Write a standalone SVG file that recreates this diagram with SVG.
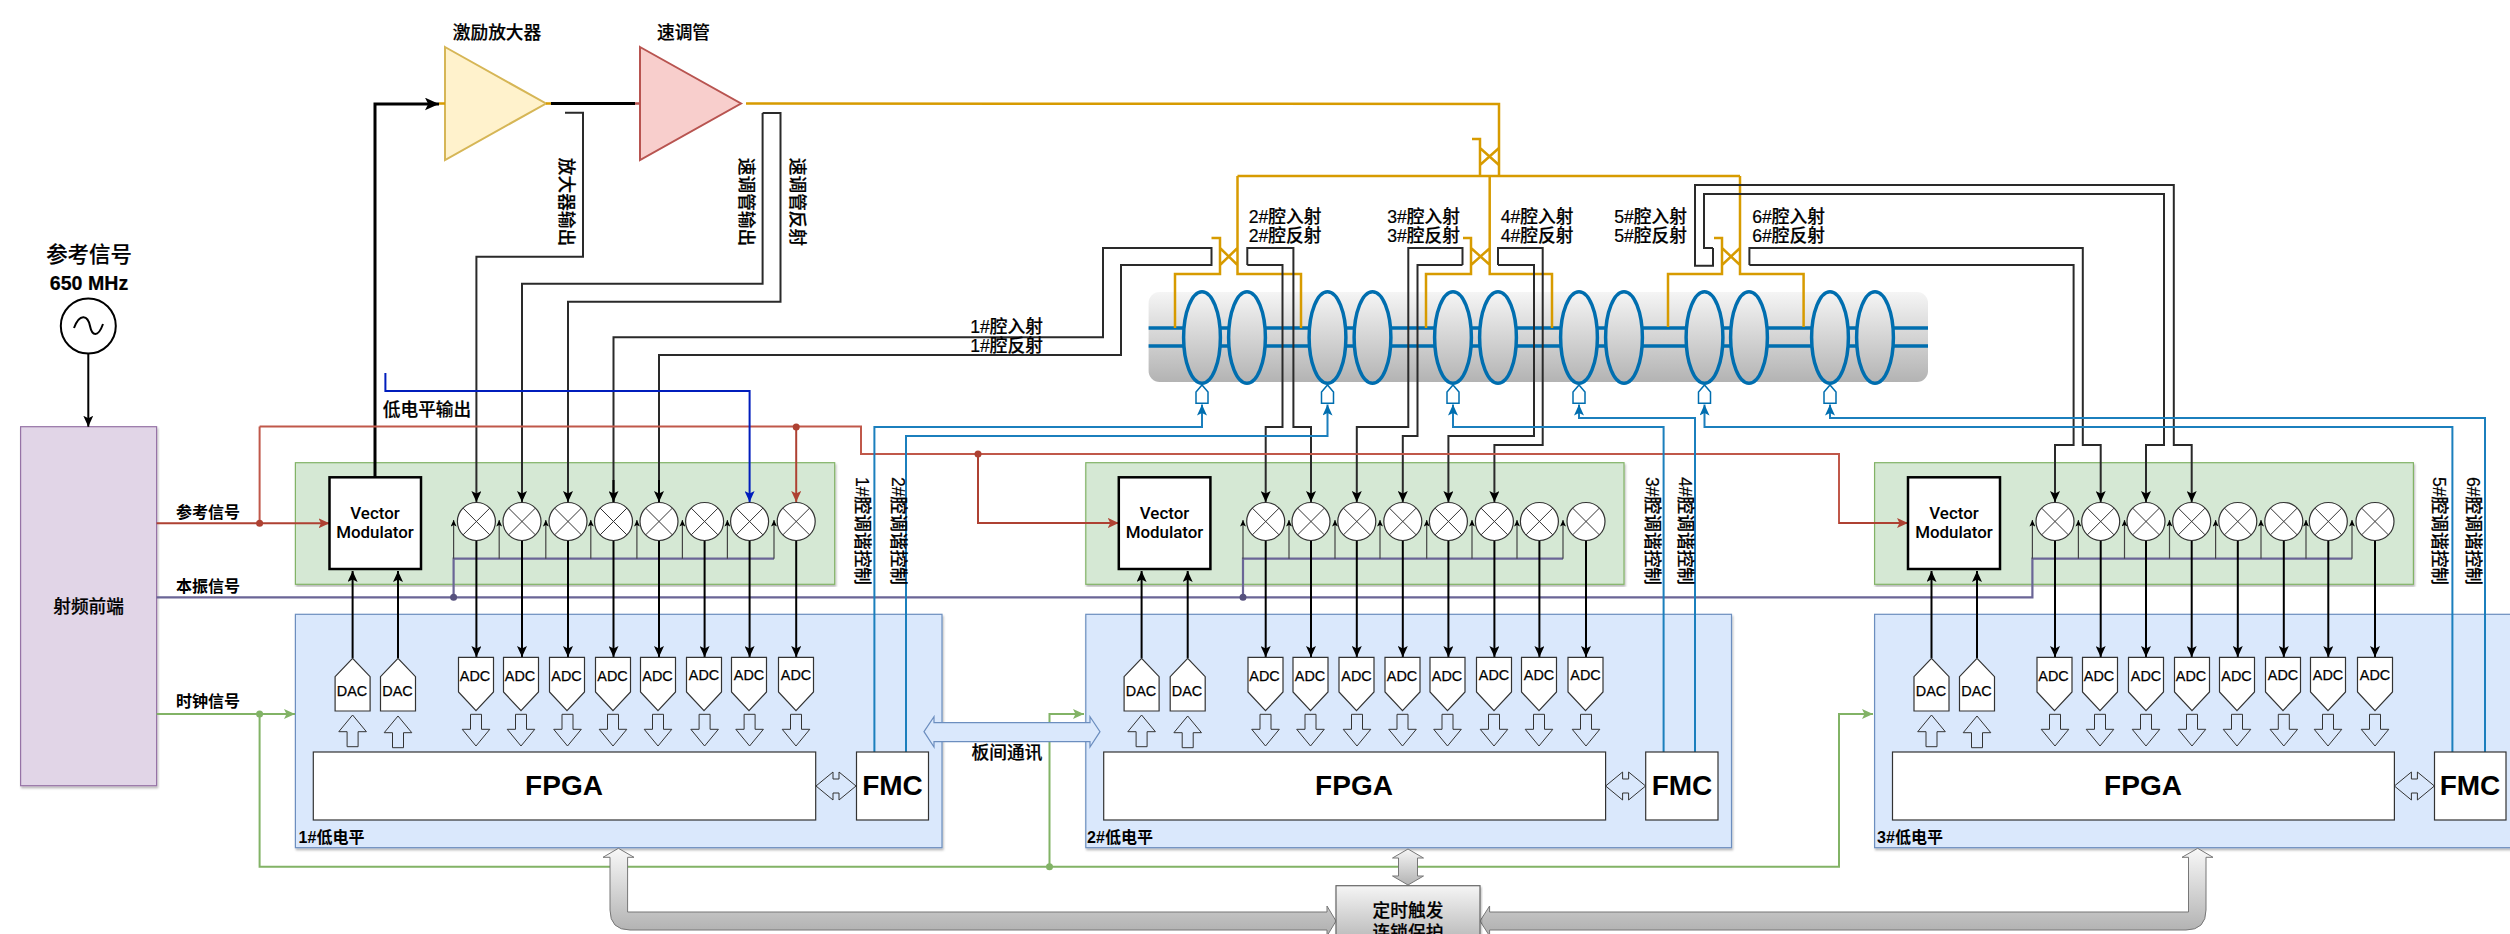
<svg xmlns="http://www.w3.org/2000/svg" width="2510" height="934" viewBox="0 0 2510 934">
<style>
text{font-family:"Liberation Sans","Noto Sans CJK SC",sans-serif;fill:#000;text-anchor:middle;dominant-baseline:central}
.t18{font-size:17.7px;font-weight:500;stroke:#000;stroke-width:.2}
.t16{font-size:16px;font-weight:bold}
.vmt{font-family:Roboto,"Liberation Sans",sans-serif;font-size:16.9px;font-weight:500}
.t28{font-size:28px;font-weight:bold}
.adc{font-size:14.4px;stroke:#000;stroke-width:.25}
.w{fill:none;stroke:#2a2a2a;stroke-width:2}
.k{fill:none;stroke:#000;stroke-width:2}
.kt{fill:none;stroke:#000;stroke-width:3}
.s{fill:none;stroke:#444;stroke-width:1.2}
.g{fill:none;stroke:#d79b00;stroke-width:2.5}
.r{fill:none;stroke:#ae4132;stroke-width:2}
.rb{fill:none;stroke:#c0584a;stroke-width:2}
.gr{fill:none;stroke:#82b366;stroke-width:2}
.p{fill:none;stroke:#6a6596;stroke-width:2.2}
.tb{fill:none;stroke:#1b7fbd;stroke-width:2}
.cav{fill:url(#gc);stroke:#006eaf;stroke-width:3.5}
.tube{fill:none;stroke:#006eaf;stroke-width:3.5}
.lb{fill:#dae8fc;stroke:#6c8ebf;stroke-width:1.2}
.lg{fill:#d5e8d4;stroke:#82b366;stroke-width:1.2}
.wh{fill:#fff;stroke:#333;stroke-width:1.2}
.vm{fill:#fff;stroke:#000;stroke-width:2.5}
.h{fill:#dae8fc;stroke:#333;stroke-width:1}
.tu{fill:#fff;stroke:#006eaf;stroke-width:1.5}
.dot{stroke:none}
</style>
<defs>
<linearGradient id="gc" x1="0" y1="0" x2="0" y2="1"><stop offset="0" stop-color="#f5f5f5"/><stop offset="1" stop-color="#b3b3b3"/></linearGradient>
<linearGradient id="gb" gradientUnits="userSpaceOnUse" x1="0" y1="848" x2="0" y2="930"><stop offset="0" stop-color="#f8f8f8"/><stop offset="1" stop-color="#b3b3b3"/></linearGradient>
<filter id="sh" x="-2%" y="-2%" width="104%" height="104%"><feDropShadow dx="1" dy="2" stdDeviation="1" flood-color="#000" flood-opacity="0.28"/></filter>
<marker id="ak" viewBox="0 0 11 10" refX="11" refY="5" markerWidth="11" markerHeight="10" markerUnits="userSpaceOnUse" orient="auto"><path d="M11,5L0,0L2.5,5L0,10Z" fill="#000"/></marker>
<marker id="akl" viewBox="0 0 11 10" refX="11" refY="5" markerWidth="14" markerHeight="13" markerUnits="userSpaceOnUse" orient="auto"><path d="M11,5L0,0L2.5,5L0,10Z" fill="#000"/></marker>
<marker id="as" viewBox="0 0 11 10" refX="11" refY="5" markerWidth="8" markerHeight="6" markerUnits="userSpaceOnUse" orient="auto"><path d="M11,5L0,0L2.5,5L0,10Z" fill="#000"/></marker>
<marker id="ar" viewBox="0 0 11 10" refX="11" refY="5" markerWidth="11" markerHeight="10" markerUnits="userSpaceOnUse" orient="auto"><path d="M11,5L0,0L2.5,5L0,10Z" fill="#ae4132"/></marker>
<marker id="ab" viewBox="0 0 11 10" refX="11" refY="5" markerWidth="11" markerHeight="10" markerUnits="userSpaceOnUse" orient="auto"><path d="M11,5L0,0L2.5,5L0,10Z" fill="#001dbc"/></marker>
<marker id="ag" viewBox="0 0 11 10" refX="11" refY="5" markerWidth="11" markerHeight="10" markerUnits="userSpaceOnUse" orient="auto"><path d="M11,5L0,0L2.5,5L0,10Z" fill="#82b366"/></marker>
<marker id="at" viewBox="0 0 11 10" refX="11" refY="5" markerWidth="11" markerHeight="10" markerUnits="userSpaceOnUse" orient="auto"><path d="M11,5L0,0L2.5,5L0,10Z" fill="#006eaf"/></marker>
<g id="mx"><circle cx="0" cy="521.5" r="19" fill="#fff" stroke="#333" stroke-width="1.2"/><path d="M-13.4,508.1L13.4,534.9M13.4,508.1L-13.4,534.9" stroke="#333" stroke-width="1"/></g>
<polygon id="adcS" class="wh" points="-17.5,657.3 17.5,657.3 17.5,692 0,710.7 -17.5,692"/>
<polygon id="dacS" class="wh" points="-17.5,711 17.5,711 17.5,676.7 0,658.3 -17.5,676.7"/>
<polygon id="up" class="h" points="-5.5,746.7 5.5,746.7 5.5,731.7 13.8,731.7 0,715 -13.8,731.7 -5.5,731.7"/>
<polygon id="dn" class="h" points="-5.5,714.3 5.5,714.3 5.5,729.3 13.8,729.3 0,746 -13.8,729.3 -5.5,729.3"/>
<polygon id="dbl" class="h" points="0,786 17,772 17,779 23,779 23,772 40,786 23,800 23,793 17,793 17,800"/>
<polygon id="tun" class="tu" points="-6,403.3 6,403.3 6,392 0,385 -6,392"/>
</defs>

<g id="frontend"><rect x="20.6" y="426.7" width="136" height="359" fill="#e1d5e7" stroke="#9673a6" stroke-width="1.2" filter="url(#sh)"/><text class="t18" x="88.6" y="606.7">射频前端</text></g>
<g id="source"><ellipse cx="88.3" cy="326" rx="27.5" ry="27.5" fill="#fff" stroke="#000" stroke-width="2"/><path d="M74,328C80,312 88,316 90,326C92,336 98,338 103,324" fill="none" stroke="#000" stroke-width="2"/><text class="t18" style="font-size:21.4px" x="89" y="255">参考信号</text><text class="t18" style="font-size:19.6px;font-weight:bold" x="89" y="283">650 MHz</text></g>

<g id="amp"><polygon points="445,47 546,103.5 445,160" fill="#fff2cc" stroke="#d6b656" stroke-width="2"/><text class="t18" x="497" y="33">激励放大器</text></g>
<g id="klystron"><polygon points="640,47 741,103.5 640,160" fill="#f8cecc" stroke="#b85450" stroke-width="2"/><text class="t18" x="683.5" y="33">速调管</text></g>

<g id="cryomodule">
<rect x="1148.6" y="292" width="779.4" height="90" rx="11" fill="url(#gc)" stroke="none"/>
<path class="tube" d="M1148.6,328H1928M1148.6,346H1928"/>
<ellipse class="cav" cx="1202" cy="337.5" rx="18.4" ry="45.8"/><ellipse class="cav" cx="1247" cy="337.5" rx="18.4" ry="45.8"/>
<ellipse class="cav" cx="1327.5" cy="337.5" rx="18.4" ry="45.8"/><ellipse class="cav" cx="1372.5" cy="337.5" rx="18.4" ry="45.8"/>
<ellipse class="cav" cx="1453" cy="337.5" rx="18.4" ry="45.8"/><ellipse class="cav" cx="1498" cy="337.5" rx="18.4" ry="45.8"/>
<ellipse class="cav" cx="1579" cy="337.5" rx="18.4" ry="45.8"/><ellipse class="cav" cx="1624" cy="337.5" rx="18.4" ry="45.8"/>
<ellipse class="cav" cx="1704.5" cy="337.5" rx="18.4" ry="45.8"/><ellipse class="cav" cx="1749" cy="337.5" rx="18.4" ry="45.8"/>
<ellipse class="cav" cx="1830" cy="337.5" rx="18.4" ry="45.8"/><ellipse class="cav" cx="1875" cy="337.5" rx="18.4" ry="45.8"/>
<use href="#tun" x="1202"/><use href="#tun" x="1327.5"/><use href="#tun" x="1453"/><use href="#tun" x="1579"/><use href="#tun" x="1704.5"/><use href="#tun" x="1830"/>
</g>

<g id="llrf1-board"><rect class="lb" x="295.4" y="614.3" width="646.6" height="233.4" filter="url(#sh)"/><text class="t16" x="331.5" y="837">1#低电平</text></g>
<g id="llrf2-board"><rect class="lb" x="1085.8" y="614.3" width="645.7" height="233.4" filter="url(#sh)"/><text class="t16" x="1120" y="837">2#低电平</text></g>
<g id="llrf3-board"><rect class="lb" x="1874.6" y="614.3" width="646" height="233.4" filter="url(#sh)"/><text class="t16" x="1910" y="837">3#低电平</text></g>
<g id="rf1-board"><rect class="lg" x="295.4" y="462.7" width="539.3" height="121.6" filter="url(#sh)"/></g>
<g id="rf2-board"><rect class="lg" x="1085.8" y="462.7" width="538.2" height="121.6" filter="url(#sh)"/></g>
<g id="rf3-board"><rect class="lg" x="1874.6" y="462.7" width="538.8" height="121.6" filter="url(#sh)"/></g>

<g id="connectors">
<path class="kt" marker-end="url(#akl)" d="M375,477V104H439"/>
<path class="kt" d="M551,103.5H635"/>
<path class="g" d="M439,103.5H445M546,103.5H551"/>
<path d="M635,103.5H640" stroke="#b85450" stroke-width="2.5"/>
<path class="k" marker-end="url(#ak)" d="M88.3,353.5V426.7"/>
<path class="g" d="M746,103.5L1499,104V176M1237.5,176H1740"/>
<path class="g" d="M1472,139H1480V176M1480,148L1499,165M1499,148L1480,165"/>
<path class="g" d="M1489.7,176V274H1552V328M1463,238H1471V274H1426V328M1471,248L1490,265M1490,248L1471,265"/>
<path class="g" d="M1237.5,176V274H1301V328M1211.5,238H1220V274H1175V328M1220,248L1237.5,265M1237.5,248L1220,265"/>
<path class="g" d="M1740,176V274H1803.6V327M1714,238H1722V274H1668V327M1722,248L1740,265M1740,248L1722,265"/>
<path class="w" marker-end="url(#ak)" d="M565,112.7H583V256.7H476.4V502"/>
<path class="w" marker-end="url(#ak)" d="M762.6,113V283.7H522V502"/>
<path class="w" marker-end="url(#ak)" d="M762.6,113H780.5V301.7H568V502"/>
<path class="w" d="M613.5,502V337.3H1103V248H1211.5V265H1121V355H659V502"/>
<path class="k" marker-end="url(#ak)" d="M613.5,480V502"/><path class="k" marker-end="url(#ak)" d="M659,480V502"/>
<path class="w" marker-end="url(#ak)" d="M1247.3,265V248H1293.4V427H1311V502"/>
<path class="w" marker-end="url(#ak)" d="M1247.3,265H1282.5V427H1265.7V502"/>
<path class="w" marker-end="url(#ak)" d="M1462.5,265V248H1408.3V427H1356.8V502"/>
<path class="w" marker-end="url(#ak)" d="M1462.5,265H1417.5V436H1402.8V502"/>
<path class="w" marker-end="url(#ak)" d="M1498,265V248H1542.7V445H1494.4V502"/>
<path class="w" marker-end="url(#ak)" d="M1498,265H1534V436H1448.4V502"/>
<path class="w" marker-end="url(#ak)" d="M1713,248V265.7H1695V185H2173.8V445H2191.7V502"/>
<path class="w" marker-end="url(#ak)" d="M1713,248H1704V194H2164V445H2146V502"/>
<path class="w" marker-end="url(#ak)" d="M1749.4,265V248H2082.8V445H2100.7V502"/>
<path class="w" marker-end="url(#ak)" d="M1749.4,265H2073.6V445H2055V502"/>
<path class="rb" d="M259.6,426.5H861V454H1839V523H1896"/>
<path class="r" marker-end="url(#ar)" d="M1839,523H1908"/>
<path class="r" marker-end="url(#ar)" d="M156.6,523.3H329.5"/>
<path class="rb" d="M259.6,523.3V426.5"/>
<path class="r" marker-end="url(#ar)" d="M978,454V523H1118.8"/>
<path class="r" marker-end="url(#ar)" d="M796.2,427V502"/>
<circle class="dot" fill="#ae4132" cx="259.6" cy="523.3" r="3.5"/><circle class="dot" fill="#ae4132" cx="796.2" cy="427" r="3.5"/><circle class="dot" fill="#ae4132" cx="978" cy="454" r="3.5"/>
<path fill="none" stroke="#001dbc" stroke-width="2" marker-end="url(#ab)" d="M385.4,373V391H749.6V502"/>
<path class="p" d="M156.6,597.3H2032.4V558.7H2352M453.6,597.3V558.7H774M1243,597.3V558.7H1563"/>
<circle class="dot" fill="#56517e" cx="453.6" cy="597.3" r="3.5"/><circle class="dot" fill="#56517e" cx="1243" cy="597.3" r="3.5"/>
<path class="s" marker-end="url(#as)" d="M453.6,558.7V520"/><path class="s" marker-end="url(#as)" d="M499.2,558.7V520"/><path class="s" marker-end="url(#as)" d="M545.8,558.7V520"/><path class="s" marker-end="url(#as)" d="M590.8,558.7V520"/><path class="s" marker-end="url(#as)" d="M636.9,558.7V520"/><path class="s" marker-end="url(#as)" d="M682.4,558.7V520"/><path class="s" marker-end="url(#as)" d="M727.4,558.7V520"/><path class="s" marker-end="url(#as)" d="M774,558.7V520"/>
<path class="s" marker-end="url(#as)" d="M1243,558.7V520"/><path class="s" marker-end="url(#as)" d="M1289,558.7V520"/><path class="s" marker-end="url(#as)" d="M1335,558.7V520"/><path class="s" marker-end="url(#as)" d="M1380,558.7V520"/><path class="s" marker-end="url(#as)" d="M1426.7,558.7V520"/><path class="s" marker-end="url(#as)" d="M1472,558.7V520"/><path class="s" marker-end="url(#as)" d="M1517,558.7V520"/><path class="s" marker-end="url(#as)" d="M1563,558.7V520"/>
<path class="s" marker-end="url(#as)" d="M2032.4,558.7V520"/><path class="s" marker-end="url(#as)" d="M2078.4,558.7V520"/><path class="s" marker-end="url(#as)" d="M2124.5,558.7V520"/><path class="s" marker-end="url(#as)" d="M2169.5,558.7V520"/><path class="s" marker-end="url(#as)" d="M2215.6,558.7V520"/><path class="s" marker-end="url(#as)" d="M2261,558.7V520"/><path class="s" marker-end="url(#as)" d="M2306,558.7V520"/><path class="s" marker-end="url(#as)" d="M2352,558.7V520"/>
<path class="k" marker-end="url(#ak)" d="M476.4,540V657"/><path class="k" marker-end="url(#ak)" d="M522,540V657"/><path class="k" marker-end="url(#ak)" d="M568,540V657"/><path class="k" marker-end="url(#ak)" d="M613.5,540V657"/><path class="k" marker-end="url(#ak)" d="M659,540V657"/><path class="k" marker-end="url(#ak)" d="M704.6,540V657"/><path class="k" marker-end="url(#ak)" d="M749.6,540V657"/><path class="k" marker-end="url(#ak)" d="M796.2,540V657"/>
<path class="k" marker-end="url(#ak)" d="M1265.7,540V657"/><path class="k" marker-end="url(#ak)" d="M1311,540V657"/><path class="k" marker-end="url(#ak)" d="M1356.8,540V657"/><path class="k" marker-end="url(#ak)" d="M1402.8,540V657"/><path class="k" marker-end="url(#ak)" d="M1448.4,540V657"/><path class="k" marker-end="url(#ak)" d="M1494.4,540V657"/><path class="k" marker-end="url(#ak)" d="M1539.4,540V657"/><path class="k" marker-end="url(#ak)" d="M1586,540V657"/>
<path class="k" marker-end="url(#ak)" d="M2055,540V657"/><path class="k" marker-end="url(#ak)" d="M2100.7,540V657"/><path class="k" marker-end="url(#ak)" d="M2146,540V657"/><path class="k" marker-end="url(#ak)" d="M2191.7,540V657"/><path class="k" marker-end="url(#ak)" d="M2237.8,540V657"/><path class="k" marker-end="url(#ak)" d="M2283.8,540V657"/><path class="k" marker-end="url(#ak)" d="M2328.3,540V657"/><path class="k" marker-end="url(#ak)" d="M2375,540V657"/>
<path class="k" marker-end="url(#ak)" d="M352.6,658V571"/><path class="k" marker-end="url(#ak)" d="M398,658V571"/>
<path class="k" marker-end="url(#ak)" d="M1141.6,658V571"/><path class="k" marker-end="url(#ak)" d="M1187.7,658V571"/>
<path class="k" marker-end="url(#ak)" d="M1931.5,658V571"/><path class="k" marker-end="url(#ak)" d="M1977,658V571"/>
<path class="gr" marker-end="url(#ag)" d="M156.6,714H295"/>
<path class="gr" marker-end="url(#ag)" d="M259.6,714V866.7H1839V714H1873"/>
<path class="gr" marker-end="url(#ag)" d="M1049.5,866.7V714H1084"/>
<circle class="dot" fill="#82b366" cx="259.6" cy="714" r="3.5"/><circle class="dot" fill="#82b366" cx="1049.5" cy="866.7" r="3.5"/>
<path class="tb" marker-end="url(#at)" d="M874.4,752V427H1202V404.5"/>
<path class="tb" marker-end="url(#at)" d="M906,752V436H1327.5V404.5"/>
<path class="tb" marker-end="url(#at)" d="M1663.6,752V427H1453V404.5"/>
<path class="tb" marker-end="url(#at)" d="M1695,752V418H1579V404.5"/>
<path class="tb" marker-end="url(#at)" d="M2452.4,752V427H1704.5V404.5"/>
<path class="tb" marker-end="url(#at)" d="M2485,752V418H1830V404.5"/>
</g>

<g id="labels">
<text class="t18" x="427" y="410">低电平输出</text>
<text class="t18" transform="rotate(90 566.4 202)" x="566.4" y="202">放大器输出</text>
<text class="t18" transform="rotate(90 746.3 202)" x="746.3" y="202">速调管输出</text>
<text class="t18" transform="rotate(90 797.3 202)" x="797.3" y="202">速调管反射</text>
<text class="t18" x="1006.5" y="327">1#腔入射</text><text class="t18" x="1006.5" y="346">1#腔反射</text>
<text class="t18" x="1285" y="217">2#腔入射</text><text class="t18" x="1285" y="236">2#腔反射</text>
<text class="t18" x="1423.5" y="217">3#腔入射</text><text class="t18" x="1423.5" y="236">3#腔反射</text>
<text class="t18" x="1537" y="217">4#腔入射</text><text class="t18" x="1537" y="236">4#腔反射</text>
<text class="t18" x="1650.5" y="217">5#腔入射</text><text class="t18" x="1650.5" y="236">5#腔反射</text>
<text class="t18" x="1788.5" y="217">6#腔入射</text><text class="t18" x="1788.5" y="236">6#腔反射</text>
<text class="t18" transform="rotate(90 862 531)" x="862" y="531">1#腔调谐控制</text>
<text class="t18" transform="rotate(90 897.7 531)" x="897.7" y="531">2#腔调谐控制</text>
<text class="t18" transform="rotate(90 1652 531)" x="1652" y="531">3#腔调谐控制</text>
<text class="t18" transform="rotate(90 1684.7 531)" x="1684.7" y="531">4#腔调谐控制</text>
<text class="t18" transform="rotate(90 2439.4 531)" x="2439.4" y="531">5#腔调谐控制</text>
<text class="t18" transform="rotate(90 2473 531)" x="2473" y="531">6#腔调谐控制</text>
<text class="t16" x="208" y="512.7">参考信号</text>
<text class="t16" x="208" y="586">本振信号</text>
<text class="t16" x="208" y="701.7">时钟信号</text>
<text class="t18" style="font-size:17.7px" x="1007" y="753">板间通讯</text>
</g>

<g id="vm1"><rect class="vm" x="329.5" y="477.3" width="91.5" height="91.7"/><text class="vmt" x="375" y="512.7">Vector</text><text class="vmt" x="375" y="532.3">Modulator</text></g>
<g id="vm2"><rect class="vm" x="1118.8" y="477.3" width="91.6" height="91.7"/><text class="vmt" x="1164.5" y="512.7">Vector</text><text class="vmt" x="1164.5" y="532.3">Modulator</text></g>
<g id="vm3"><rect class="vm" x="1908" y="477.3" width="92" height="91.7"/><text class="vmt" x="1954" y="512.7">Vector</text><text class="vmt" x="1954" y="532.3">Modulator</text></g>

<g id="mixers1"><use href="#mx" x="476.4"/><use href="#mx" x="522"/><use href="#mx" x="568"/><use href="#mx" x="613.5"/><use href="#mx" x="659"/><use href="#mx" x="704.6"/><use href="#mx" x="749.6"/><use href="#mx" x="796.2"/></g>
<g id="mixers2"><use href="#mx" x="1265.7"/><use href="#mx" x="1311"/><use href="#mx" x="1356.8"/><use href="#mx" x="1402.8"/><use href="#mx" x="1448.4"/><use href="#mx" x="1494.4"/><use href="#mx" x="1539.4"/><use href="#mx" x="1586"/></g>
<g id="mixers3"><use href="#mx" x="2055"/><use href="#mx" x="2100.7"/><use href="#mx" x="2146"/><use href="#mx" x="2191.7"/><use href="#mx" x="2237.8"/><use href="#mx" x="2283.8"/><use href="#mx" x="2328.3"/><use href="#mx" x="2375"/></g>

<g id="adc1">
<use href="#adcS" x="476"/><text class="adc" x="475" y="676">ADC</text><use href="#adcS" x="521"/><text class="adc" x="520" y="676">ADC</text><use href="#adcS" x="567"/><text class="adc" x="566.5" y="676">ADC</text><use href="#adcS" x="613"/><text class="adc" x="612.5" y="676">ADC</text><use href="#adcS" x="658"/><text class="adc" x="657.5" y="676">ADC</text><use href="#adcS" x="704"/><text class="adc" x="704" y="675">ADC</text><use href="#adcS" x="749"/><text class="adc" x="749" y="675">ADC</text><use href="#adcS" x="796"/><text class="adc" x="796" y="675">ADC</text>
</g>
<g id="adc2">
<use href="#adcS" x="1265.5"/><text class="adc" x="1264.5" y="676">ADC</text><use href="#adcS" x="1310.5"/><text class="adc" x="1310" y="676">ADC</text><use href="#adcS" x="1356.5"/><text class="adc" x="1356.5" y="676">ADC</text><use href="#adcS" x="1402.5"/><text class="adc" x="1402" y="676">ADC</text><use href="#adcS" x="1447.5"/><text class="adc" x="1447" y="676">ADC</text><use href="#adcS" x="1494"/><text class="adc" x="1494" y="675">ADC</text><use href="#adcS" x="1539"/><text class="adc" x="1539" y="675">ADC</text><use href="#adcS" x="1585.5"/><text class="adc" x="1585.5" y="675">ADC</text>
</g>
<g id="adc3">
<use href="#adcS" x="2054.5"/><text class="adc" x="2053.5" y="676">ADC</text><use href="#adcS" x="2100"/><text class="adc" x="2099" y="676">ADC</text><use href="#adcS" x="2146"/><text class="adc" x="2146" y="676">ADC</text><use href="#adcS" x="2192"/><text class="adc" x="2191" y="676">ADC</text><use href="#adcS" x="2237"/><text class="adc" x="2236.5" y="676">ADC</text><use href="#adcS" x="2283"/><text class="adc" x="2283" y="675">ADC</text><use href="#adcS" x="2328"/><text class="adc" x="2328" y="675">ADC</text><use href="#adcS" x="2375"/><text class="adc" x="2375" y="675">ADC</text>
</g>
<g id="dac1"><use href="#dacS" x="352.6"/><text class="adc" x="352" y="690.7">DAC</text><use href="#dacS" x="398"/><text class="adc" x="397.5" y="690.7">DAC</text></g>
<g id="dac2"><use href="#dacS" x="1141.6"/><text class="adc" x="1141" y="690.7">DAC</text><use href="#dacS" x="1187.7"/><text class="adc" x="1187" y="690.7">DAC</text></g>
<g id="dac3"><use href="#dacS" x="1931.5"/><text class="adc" x="1931" y="690.7">DAC</text><use href="#dacS" x="1977"/><text class="adc" x="1976.5" y="690.7">DAC</text></g>

<g id="dataarrows">
<use href="#up" x="352.6"/><use href="#up" x="398" y="1"/><use href="#up" x="1141.6"/><use href="#up" x="1187.7" y="1"/><use href="#up" x="1931.5"/><use href="#up" x="1977" y="1"/>
<use href="#dn" x="476"/><use href="#dn" x="521"/><use href="#dn" x="567.5"/><use href="#dn" x="613"/><use href="#dn" x="658"/><use href="#dn" x="704.6"/><use href="#dn" x="749.6"/><use href="#dn" x="796"/>
<use href="#dn" x="1265.5"/><use href="#dn" x="1310.5"/><use href="#dn" x="1357"/><use href="#dn" x="1402.5"/><use href="#dn" x="1447.5"/><use href="#dn" x="1494"/><use href="#dn" x="1539"/><use href="#dn" x="1586"/>
<use href="#dn" x="2055"/><use href="#dn" x="2100"/><use href="#dn" x="2146"/><use href="#dn" x="2192"/><use href="#dn" x="2237"/><use href="#dn" x="2283.8"/><use href="#dn" x="2328"/><use href="#dn" x="2375"/>
<use href="#dbl" x="816"/><use href="#dbl" x="1605.6"/><use href="#dbl" x="2394.4"/>
</g>

<g id="fpga1"><rect class="wh" x="313.3" y="752" width="502.4" height="68"/><text class="t28" x="564" y="785">FPGA</text></g>
<g id="fpga2"><rect class="wh" x="1103.7" y="752" width="501.9" height="68"/><text class="t28" x="1354" y="785">FPGA</text></g>
<g id="fpga3"><rect class="wh" x="1892.5" y="752" width="501.9" height="68"/><text class="t28" x="2143" y="785">FPGA</text></g>
<g id="fmc1"><rect class="wh" x="856.5" y="752" width="72" height="68"/><text class="t28" x="892.5" y="785">FMC</text></g>
<g id="fmc2"><rect class="wh" x="1645.7" y="752" width="72.3" height="68"/><text class="t28" x="1682" y="785">FMC</text></g>
<g id="fmc3"><rect class="wh" x="2434.5" y="752" width="71.5" height="68"/><text class="t28" x="2470" y="785">FMC</text></g>

<g id="board-link"><polygon class="lb" points="924,731.7 934,716.7 934,722.7 1090,722.7 1090,716.7 1100,731.7 1090,747 1090,741.7 934,741.7 934,747"/></g>
<g id="timing">
<path d="M618.4,848.3L634,857.3H627.6V912H1327V906L1336,921L1327,936V930H630Q610,930 610,910V857.3H603Z" fill="url(#gb)" stroke="#777" stroke-width="1"/>
<path d="M2197.7,848.3L2213,857.3H2206V910Q2206,930 2186,930H1489.6V936L1480,921L1489.6,906V912H2188.5V857.3H2182Z" fill="url(#gb)" stroke="#777" stroke-width="1"/>
<path d="M1408,849L1423.5,858H1417.5V876H1423.5L1408,885L1392.5,876H1398.5V858H1392.5Z" fill="url(#gc)" stroke="#777" stroke-width="1"/>
<rect x="1336" y="885.7" width="144" height="60" fill="url(#gc)" stroke="#666" stroke-width="1.2" filter="url(#sh)"/>
<text class="t18" x="1408" y="911">定时触发</text><text class="t18" x="1408" y="933">连锁保护</text>
</g>
</svg>
